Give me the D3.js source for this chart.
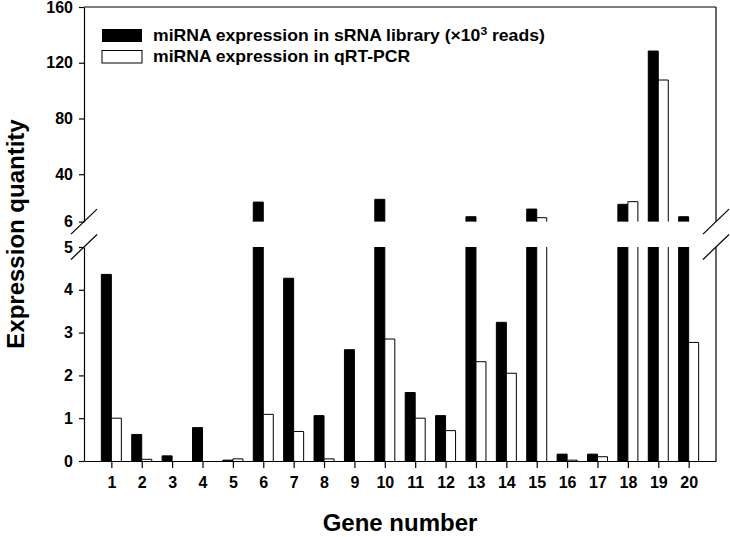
<!DOCTYPE html>
<html>
<head>
<meta charset="utf-8">
<script src="https://cdn.jsdelivr.net/npm/d3@7"></script>
<style>
  body { margin: 0; background: #fff; }
  text { font-family: "Liberation Sans", Arial, sans-serif; font-weight: bold; fill: #000; }
</style>
</head>
<body>
<script>
let genes = d3.range(1, 21)
// sRNA library (x10^3 reads) and qRT-PCR values
let libraryValues = [4.36, 0.62, 0.12, 0.78, 0.02, 20, 4.27, 1.06, 2.6, 22,
                     1.6, 1.06, 9.5, 3.24, 15, 0.16, 0.16, 18.4, 128.4, 9.5]
let qpcrValues = [1.0, 0.04, 0, 0, 0.05, 1.09, 0.69, 0.05, 0, 2.85,
                  1.0, 0.71, 2.32, 2.05, 8.8, 0.02, 0.1, 20.3, 107.6, 2.77]
let lowTicks = [0, 1, 2, 3, 4, 5]
let highTicks = [6, 40, 80, 120, 160]
let seriesNames = ['miRNA expression in sRNA library', 'miRNA expression in qRT-PCR']

let width = 730, height = 537
let plot = { left: 84, right: 716, top: 7, bottom: 461 }
let breakLow = 247, breakHigh = 221.6
let barW = 10

let svg = d3.select('body').append('svg')
    .attr('width', width)
    .attr('height', height)

let x = d3.scalePoint().domain(genes).range([plot.left, plot.right]).padding(0.9)
let yLow = d3.scaleLinear().domain([0, 5]).range([plot.bottom, breakLow])
let yHigh = d3.scaleLinear().domain([6, 160]).range([breakHigh, plot.top])

//bars, split across the break: a fill rect plus an open outline for each piece
let series = [
    { values: libraryValues, dx: -barW, fill: '#000' },
    { values: qpcrValues, dx: 0, fill: '#fff' }
]

series.forEach(s => {
    let pieces = []
    genes.forEach((gene, i) => {
        let v = s.values[i]
        let x0 = x(gene) + s.dx
        if (v > 0) pieces.push({ x0: x0, y0: yLow(0), y1: yLow(Math.min(v, 5)), open: v > 5 })
        if (v > 6) pieces.push({ x0: x0, y0: yHigh(6), y1: yHigh(v), open: false })
    })
    let g = svg.append('g')
    g.selectAll('rect')
        .data(pieces)
        .enter()
        .append('rect')
        .attr('x', d => d.x0)
        .attr('y', d => d.y1)
        .attr('width', barW)
        .attr('height', d => d.y0 - d.y1)
        .attr('fill', s.fill)
    g.selectAll('path')
        .data(pieces)
        .enter()
        .append('path')
        .attr('d', d => {
            let p = d3.path()
            p.moveTo(d.x0, d.y0)
            p.lineTo(d.x0, d.y1)
            if (d.open) p.moveTo(d.x0 + barW, d.y1)
            else p.lineTo(d.x0 + barW, d.y1)
            p.lineTo(d.x0 + barW, d.y0)
            return p.toString()
        })
        .attr('fill', 'none')
        .attr('stroke', '#000')
        .attr('stroke-width', 1)
})

//axes
svg.append('g')
    .attr('transform', 'translate(' + plot.left + ',0)')
    .call(d3.axisLeft(yLow).tickValues(lowTicks).tickFormat(d3.format('d'))
        .tickSize(5).tickSizeOuter(0).tickPadding(6))
svg.append('g')
    .attr('transform', 'translate(' + plot.left + ',0)')
    .call(d3.axisLeft(yHigh).tickValues(highTicks).tickFormat(d3.format('d'))
        .tickSize(5).tickSizeOuter(0).tickPadding(6))
svg.append('g')
    .attr('transform', 'translate(0,' + plot.bottom + ')')
    .call(d3.axisBottom(x).tickSize(7).tickSizeOuter(0).tickPadding(9))

svg.selectAll('.tick text').attr('font-size', 16).attr('font-family', null)
svg.selectAll('.domain, .tick line').attr('stroke', '#000').attr('stroke-width', 1.2)

//frame: top and right edges
svg.append('line')
    .attr('x1', plot.left).attr('x2', plot.right).attr('y1', plot.top).attr('y2', plot.top)
    .attr('stroke', '#000').attr('stroke-width', 1.2)
svg.append('line')
    .attr('x1', plot.right).attr('x2', plot.right).attr('y1', plot.top).attr('y2', breakHigh)
    .attr('stroke', '#000').attr('stroke-width', 1.2)
svg.append('line')
    .attr('x1', plot.right).attr('x2', plot.right).attr('y1', breakLow).attr('y2', plot.bottom)
    .attr('stroke', '#000').attr('stroke-width', 1.2)

//break marks
let slashes = []
;[plot.left, plot.right].forEach(cx => [breakHigh, breakLow].forEach(cy => slashes.push([cx, cy])))
svg.selectAll('line.slash')
    .data(slashes)
    .enter()
    .append('line')
    .attr('class', 'slash')
    .attr('x1', d => d[0] - 13).attr('y1', d => d[1] + 12.5)
    .attr('x2', d => d[0] + 13).attr('y2', d => d[1] - 12.5)
    .attr('stroke', '#000').attr('stroke-width', 1.2)

//legend (text is a little wider than plain Arial in the original)
let legend = svg.append('g').attr('transform', 'translate(102,29)')
legend.append('rect')
    .attr('width', 40).attr('height', 13).attr('fill', '#000')
legend.append('rect')
    .attr('y', 21.5).attr('width', 40).attr('height', 12.5)
    .attr('fill', '#fff').attr('stroke', '#000').attr('stroke-width', 1)
let t1 = legend.append('text')
    .attr('transform', 'translate(51,12) scale(1.1,1)')
    .attr('font-size', 16)
t1.append('tspan').text(seriesNames[0] + ' (\u00d710')
t1.append('tspan').attr('font-size', 11).attr('dy', -6).text('3')
t1.append('tspan').attr('dy', 6).text(' reads)')
legend.append('text')
    .attr('transform', 'translate(51,33) scale(1.1,1)')
    .attr('font-size', 16)
    .text(seriesNames[1])

//axis titles
svg.append('text')
    .attr('x', (plot.left + plot.right) / 2).attr('y', 531)
    .attr('text-anchor', 'middle').attr('font-size', 24)
    .text('Gene number')
svg.append('text')
    .attr('transform', 'translate(24,' + ((plot.top + plot.bottom) / 2) + ') rotate(-90)')
    .attr('text-anchor', 'middle').attr('font-size', 24)
    .text('Expression quantity')
</script>
</body>
</html>
